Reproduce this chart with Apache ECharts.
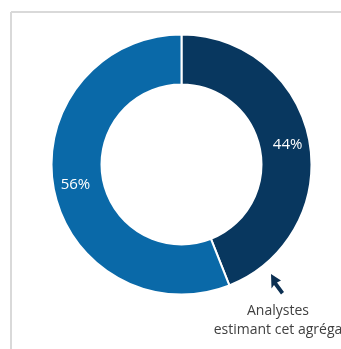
<!DOCTYPE html>
<html><head><meta charset="utf-8">
<script src="https://cdn.jsdelivr.net/npm/echarts@6/dist/echarts.min.js"></script>
<style>html,body{margin:0;padding:0;background:#fff;}#c{width:341px;height:349px;}</style>
</head><body><div id="c"></div>
<script>
const categories = ['Analystes estimant cet agrégat', 'Autres'];
const values = [44, 56];
const colors = ['#08375F', '#0A69A8'];
const annotationLines = ['Analystes', 'estimant cet agréga'];

const chart = echarts.init(document.getElementById('c'), null, {renderer: 'canvas'});
chart.setOption({
  animation: false,
  series: [{
    type: 'pie',
    center: [181.5, 164.5],
    radius: [80, 130],
    startAngle: 90,
    clockwise: true,
    avoidLabelOverlap: false,
    itemStyle: {borderColor: '#fff', borderWidth: 2},
    label: {
      show: true, position: 'inside', color: '#fff',
      fontFamily: 'Open Sans', fontSize: 15,
      formatter: p => p.value + '%'
    },
    labelLine: {show: false},
    emphasis: {disabled: true},
    data: categories.map((c, i) => ({name: c, value: values[i], itemStyle: {color: colors[i]}}))
  }],
  graphic: [
    {type: 'line', shape: {x1: 11, y1: 12, x2: 341, y2: 12}, style: {stroke: '#D9D9D9', lineWidth: 2}},
    {type: 'line', shape: {x1: 11, y1: 12, x2: 11, y2: 349}, style: {stroke: '#D9D9D9', lineWidth: 2}},
    {type: 'polygon', shape: {points: [[271, 274], [281, 280.5], [277, 282.5], [284, 292], [281, 294.5], [274, 285], [271.5, 288.5]]}, style: {fill: '#0B2F52'}},
    {type: 'text', style: {text: annotationLines[0], x: 278, y: 311, textAlign: 'center', textVerticalAlign: 'middle', fill: '#404040', font: '14px "Open Sans"'}},
    {type: 'text', style: {text: annotationLines[1], x: 278, y: 330, textAlign: 'center', textVerticalAlign: 'middle', fill: '#404040', font: '14px "Open Sans"'}}
  ]
});
</script></body></html>
